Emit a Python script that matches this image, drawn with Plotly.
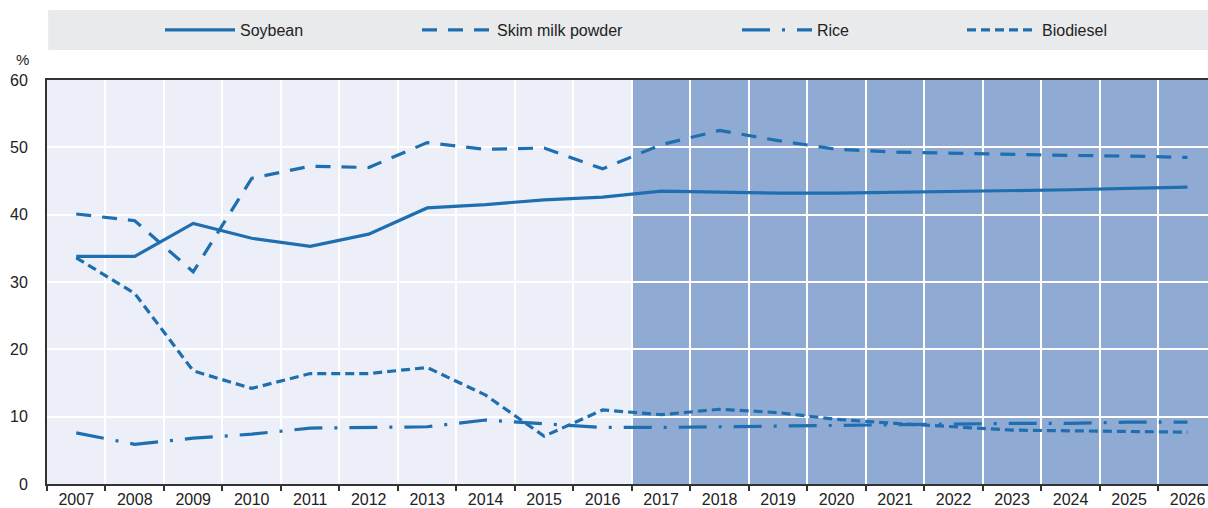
import plotly.graph_objects as go

years = list(range(2007, 2027))
soybean = [33.8, 33.8, 38.7, 36.5, 35.3, 37.1, 41.0, 41.5, 42.2, 42.6,
           43.5, 43.3, 43.2, 43.2, 43.3, 43.4, 43.6, 43.7, 43.9, 44.1]
skim_milk = [40.1, 39.1, 31.5, 45.4, 47.2, 47.0, 50.7, 49.7, 49.9, 46.8,
             50.4, 52.5, 51.0, 49.7, 49.3, 49.1, 48.9, 48.8, 48.7, 48.5]
rice = [7.6, 5.9, 6.8, 7.4, 8.3, 8.4, 8.5, 9.5, 9.0, 8.4,
        8.4, 8.5, 8.7, 8.8, 8.8, 8.9, 9.0, 9.0, 9.2, 9.2]
biodiesel = [33.6, 28.3, 16.8, 14.2, 16.4, 16.4, 17.3, 13.2, 7.1, 11.0,
             10.3, 11.1, 10.6, 9.6, 9.0, 8.5, 8.0, 7.9, 7.8, 7.7]

LINE = "#1f6fb0"
FONT = "Liberation Sans Narrow, Arial Narrow, Liberation Sans, Arial, sans-serif"

series = [
    ("Soybean", soybean, "solid", "legend", 166),
    ("Skim milk powder", skim_milk, "15px,11px", "legend2", 423),
    ("Rice", rice, "28px,12px,3px,12px", "legend3", 743),
    ("Biodiesel", biodiesel, "9px,5px", "legend4", 968),
]

PLOT_L, PLOT_W = 47, 1161

fig = go.Figure()
legends = {}
for name, vals, dash, lg, px in series:
    fig.add_trace(go.Scatter(x=years, y=vals, name=name, mode="lines", legend=lg,
                             line=dict(color=LINE, width=3.2, dash=dash)))
    legends[lg] = dict(
        orientation="h", x=(px - PLOT_L - 6) / PLOT_W, xanchor="left",
        y=1.124, yanchor="middle", bgcolor="rgba(0,0,0,0)", itemwidth=70,
        font=dict(size=16), itemclick=False, itemdoubleclick=False)

# forecast shading
fig.add_shape(type="rect", xref="x", yref="y", x0=2016.5, x1=2026.6, y0=0, y1=60,
              fillcolor="#8fabd4", line=dict(width=0), layer="below")
# legend background
fig.add_shape(type="rect", xref="paper", yref="paper", x0=0.001, x1=1.0,
              y0=1.074, y1=1.173, fillcolor="#e9eaec", line=dict(width=0), layer="below")

fig.add_annotation(text="%", xref="paper", yref="paper", x=-0.0215, y=1.05,
                   showarrow=False, font=dict(size=15, color="#222"),
                   xanchor="center", yanchor="middle")

fig.update_layout(
    width=1208, height=508,
    margin=dict(l=47, r=0, t=80, b=24),
    paper_bgcolor="white", plot_bgcolor="#eceff8",
    font=dict(family=FONT, size=15, color="#222"),
    showlegend=True,
    hovermode=False,
    xaxis=dict(range=[2006.5, 2026.35], tickmode="linear", tick0=2007, dtick=1,
               showgrid=False, ticks="", showline=True, linecolor="#333",
               linewidth=2, mirror=True, zeroline=False, fixedrange=True,
               tickfont=dict(size=16),
               minor=dict(tick0=2006.5, dtick=1, showgrid=True, gridcolor="white",
                          gridwidth=2, ticks="outside", ticklen=5,
                          tickcolor="#333", tickwidth=2)),
    yaxis=dict(range=[0, 60], tickmode="linear", tick0=0, dtick=10,
               showgrid=True, gridcolor="white", gridwidth=2, ticks="",
               showline=True, linecolor="#333", linewidth=2, zeroline=False,
               fixedrange=True, ticklabelstandoff=14, tickfont=dict(size=16)),
)
fig.update_layout(**legends)

fig.write_html(
    "out.html",
    config={"displayModeBar": False, "staticPlot": False},
    post_script="document.body.style.margin='0';document.body.style.overflow='hidden';",
)
